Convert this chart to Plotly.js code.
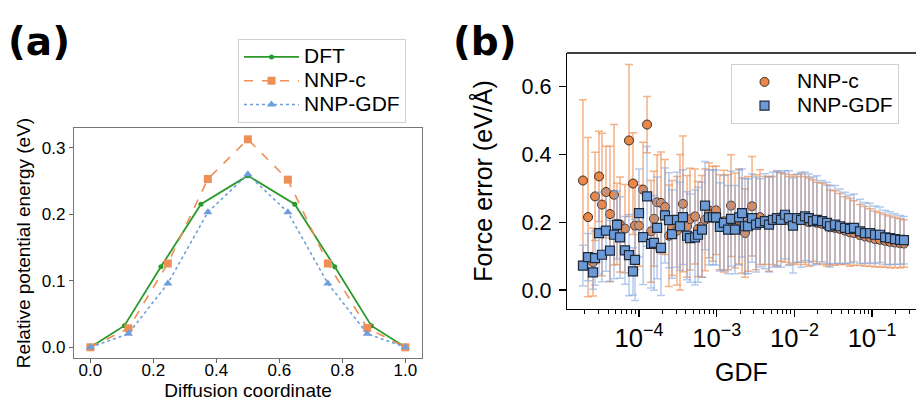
<!DOCTYPE html>
<html>
<head>
<meta charset="utf-8">
<script src="https://cdn.plot.ly/plotly-3.0.1.min.js"></script>
<style>
html,body{margin:0;padding:0;background:#fff;}
#chart{width:916px;height:404px;}
</style>
</head>
<body>
<div id="chart"></div>
<script>
// ---------- Panel (a): diffusion barrier ----------
const dftX = [0, 0.108, 0.224, 0.351, 0.5, 0.649, 0.776, 0.892, 1.0];
const dftY = [0, 0.0325, 0.121, 0.215, 0.258, 0.215, 0.121, 0.0325, 0];
const nnpX = [0, 0.121, 0.246, 0.373, 0.5, 0.627, 0.754, 0.879, 1.0];
const nnpcY = [0, 0.0285, 0.126, 0.253, 0.3126, 0.252, 0.126, 0.029, 0];
const nnpgdfY = [0, 0.0205, 0.096, 0.203, 0.26, 0.203, 0.096, 0.0205, 0];
const xTicksA = [0, 0.2, 0.4, 0.6, 0.8, 1.0];
const yTicksA = [0, 0.1, 0.2, 0.3];

// ---------- Panel (b): force error vs GDF ----------
const gdf = [1.90e-5, 2.21e-5, 2.56e-5, 2.72e-5, 3.06e-5, 3.34e-5, 3.76e-5, 4.23e-5, 4.77e-5, 5.21e-5, 5.70e-5, 6.60e-5, 7.43e-5, 8.37e-5, 8.88e-5, 1.00e-4, 1.13e-4, 1.27e-4, 1.43e-4, 1.56e-4, 1.71e-4,
  1.92e-4, 2.16e-4, 2.43e-4, 2.66e-4, 3.08e-4, 3.37e-4, 3.68e-4, 4.15e-4, 4.53e-4, 5.26e-4, 5.75e-4, 6.47e-4, 7.07e-4, 7.96e-4, 8.96e-4, 9.80e-4, 1.10e-3, 1.24e-3, 1.40e-3, 1.53e-3, 1.72e-3, 1.94e-3, 2.12e-3, 2.31e-3,
  2.53e-3, 2.85e-3, 3.21e-3, 3.61e-3, 4.18e-3, 4.71e-3, 5.30e-3, 5.97e-3, 6.72e-3, 7.57e-3, 8.52e-3, 9.59e-3, 1.08e-2, 1.22e-2, 1.37e-2, 1.54e-2, 1.74e-2, 1.95e-2, 2.27e-2, 2.63e-2,
  2.87e-2, 3.33e-2, 3.86e-2, 4.48e-2, 5.19e-2, 5.85e-2, 6.99e-2, 8.10e-2, 9.40e-2, 0.109, 0.126, 0.147, 0.170, 0.197, 0.229, 0.257];
const nnpcMean = [0.323, 0.215, 0.082, 0.276, 0.335, 0.252, 0.289, 0.224, 0.281, 0.195, 0.193, 0.181, 0.441, 0.314, 0.190, 0.190, 0.296, 0.488, 0.173, 0.210, 0.259,
  0.257, 0.245, 0.160, 0.183, 0.175, 0.200, 0.254, 0.188, 0.209, 0.217, 0.180, 0.188, 0.207, 0.235, 0.225, 0.235, 0.200, 0.203, 0.200, 0.249, 0.205, 0.217, 0.190, 0.168,
  0.195, 0.247, 0.200, 0.215, 0.205, 0.195, 0.205, 0.210, 0.215, 0.212, 0.205, 0.210, 0.205, 0.212, 0.205, 0.200, 0.205, 0.198, 0.195, 0.190,
  0.185, 0.183, 0.180, 0.175, 0.170, 0.168, 0.162, 0.158, 0.155, 0.150, 0.148, 0.145, 0.142, 0.140, 0.138, 0.137];
const nnpcErr = [0.238, 0.235, 0.10, 0.13, 0.133, 0.21, 0.135, 0.20, 0.207, 0.12, 0.14, 0.13, 0.224, 0.15, 0.13, 0.12, 0.14, 0.083, 0.15, 0.14, 0.14,
  0.15, 0.14, 0.15, 0.14, 0.16, 0.20, 0.20, 0.15, 0.15, 0.14, 0.14, 0.15, 0.15, 0.14, 0.14, 0.13, 0.14, 0.15, 0.14, 0.15, 0.14, 0.14, 0.14, 0.13,
  0.14, 0.147, 0.14, 0.14, 0.13, 0.14, 0.13, 0.14, 0.13, 0.13, 0.13, 0.13, 0.13, 0.13, 0.13, 0.13, 0.12, 0.12, 0.12, 0.12,
  0.11, 0.11, 0.105, 0.10, 0.10, 0.095, 0.09, 0.088, 0.085, 0.082, 0.08, 0.078, 0.076, 0.074, 0.072, 0.07];
const nnpgdfMean = [0.072, 0.097, 0.052, 0.094, 0.168, 0.104, 0.175, 0.116, 0.163, 0.192, 0.155, 0.117, 0.103, 0.055, 0.089, 0.227, 0.156, 0.276, 0.136, 0.139, 0.183,
  0.124, 0.220, 0.206, 0.165, 0.207, 0.188, 0.215, 0.160, 0.153, 0.155, 0.163, 0.178, 0.249, 0.214, 0.215, 0.214, 0.186, 0.198, 0.178, 0.210, 0.178, 0.214, 0.227, 0.188,
  0.188, 0.212, 0.193, 0.198, 0.203, 0.193, 0.207, 0.212, 0.207, 0.222, 0.212, 0.190, 0.212, 0.207, 0.217, 0.212, 0.203, 0.207, 0.203, 0.198,
  0.188, 0.193, 0.188, 0.183, 0.180, 0.183, 0.173, 0.168, 0.168, 0.163, 0.163, 0.155, 0.153, 0.150, 0.148, 0.147];
const nnpgdfErr = [0.06, 0.07, 0.05, 0.08, 0.12, 0.08, 0.12, 0.09, 0.13, 0.10, 0.12, 0.10, 0.12, 0.07, 0.12, 0.13, 0.14, 0.147, 0.13, 0.14, 0.15,
  0.14, 0.14, 0.14, 0.13, 0.14, 0.13, 0.14, 0.13, 0.13, 0.14, 0.14, 0.14, 0.13, 0.14, 0.14, 0.14, 0.13, 0.14, 0.13, 0.14, 0.13, 0.14, 0.13, 0.14,
  0.14, 0.13, 0.14, 0.13, 0.14, 0.14, 0.14, 0.14, 0.14, 0.13, 0.14, 0.14, 0.13, 0.14, 0.13, 0.13, 0.13, 0.13, 0.12, 0.12,
  0.12, 0.115, 0.11, 0.105, 0.10, 0.10, 0.095, 0.09, 0.088, 0.085, 0.082, 0.08, 0.078, 0.075, 0.072, 0.07];
const yTicksB = [0, 0.2, 0.4, 0.6];

const FONT = 'Liberation Sans';
const W = 916, H = 404;
const px = v => v / W;
const py = v => 1 - v / H;
const big = s => '<span style="font-size:21px">' + s + '</span>';

const traces = [
  {x: dftX, y: dftY, name: big('DFT'), mode: 'lines+markers', xaxis: 'x', yaxis: 'y', legend: 'legend',
   line: {color: '#2a9a2a', width: 1.8}, marker: {symbol: 'circle', size: 5, color: '#2a9a2a'}},
  {x: nnpX, y: nnpcY, name: big('NNP-c'), mode: 'lines+markers', xaxis: 'x', yaxis: 'y', legend: 'legend',
   line: {color: '#ee8f57', width: 1.6, dash: 'dash'}, marker: {symbol: 'square', size: 8, color: '#ee8f57'}},
  {x: nnpX, y: nnpgdfY, name: big('NNP-GDF'), mode: 'lines+markers', xaxis: 'x', yaxis: 'y', legend: 'legend',
   line: {color: '#6f9edc', width: 1.6, dash: 'dot'}, marker: {symbol: 'triangle-up', size: 8, color: '#6f9edc'}},
  {x: gdf, y: nnpcMean, name: big('NNP-c'), mode: 'markers', xaxis: 'x2', yaxis: 'y2', legend: 'legend2',
   marker: {symbol: 'circle', size: 9, color: '#ea874a', line: {color: '#3a2a20', width: 1}},
   error_y: {type: 'data', array: nnpcErr, visible: true, color: 'rgba(240,146,84,0.7)', thickness: 1.5, width: 4}},
  {x: gdf, y: nnpgdfMean, name: big('NNP-GDF'), mode: 'markers', xaxis: 'x2', yaxis: 'y2', legend: 'legend2',
   marker: {symbol: 'square', size: 9, color: '#6c9ad6', line: {color: '#1e2a3a', width: 1.2}},
   error_y: {type: 'data', array: nnpgdfErr, visible: true, color: 'rgba(120,160,222,0.55)', thickness: 1.5, width: 4}}
];

const layout = {
  width: W, height: H,
  margin: {l: 0, r: 0, t: 0, b: 0},
  paper_bgcolor: '#fff', plot_bgcolor: '#fff',
  font: {family: FONT, color: '#000'},
  showlegend: true,
  xaxis: {
    domain: [px(74), px(422)], anchor: 'y', range: [-0.052, 1.053],
    tickmode: 'array', tickvals: xTicksA, tickformat: '.1f',
    ticks: 'outside', ticklen: 4, tickcolor: '#666', tickwidth: 1, ticklabelstandoff: -8,
    tickfont: {size: 17, family: FONT},
    showline: true, linecolor: '#777', linewidth: 1.2, mirror: true,
    showgrid: false, zeroline: false, automargin: false,
    title: {text: 'Diffusion coordinate', font: {size: 19, family: FONT}, standoff: 4}
  },
  yaxis: {
    domain: [py(358), py(128)], anchor: 'x', range: [-0.0161, 0.3296],
    tickmode: 'array', tickvals: yTicksA, tickformat: '.1f',
    ticks: 'outside', ticklen: 4, tickcolor: '#666', tickwidth: 1,
    tickfont: {size: 17, family: FONT},
    showline: true, linecolor: '#777', linewidth: 1.2, mirror: true,
    showgrid: false, zeroline: false, automargin: false,
    title: {text: 'Relative potential energy (eV)', font: {size: 19, family: FONT}, standoff: 6}
  },
  xaxis2: {
    domain: [px(567), 1], anchor: 'y2', type: 'log', range: [-4.9266, -0.435],
    dtick: 1, exponentformat: 'power', showexponent: 'all',
    ticks: 'outside', ticklen: 7, tickcolor: '#000', tickwidth: 1.2,
    minor: {dtick: 'D1', ticks: 'outside', ticklen: 4, tickcolor: '#000', tickwidth: 1, showgrid: false},
    tickfont: {size: 20.5, family: FONT},
    showline: true, linecolor: '#000', linewidth: 1.3, mirror: false,
    showgrid: false, zeroline: false, automargin: false,
    title: {text: 'GDF', font: {size: 25, family: FONT}, standoff: 12}
  },
  yaxis2: {
    domain: [py(309), py(53)], anchor: 'x2', range: [-0.056, 0.699],
    tickmode: 'array', tickvals: yTicksB, tickformat: '.1f',
    ticks: 'outside', ticklen: 7, tickcolor: '#000', tickwidth: 1.2, ticklabelstandoff: 3,
    tickfont: {size: 21.5, family: FONT},
    showline: true, linecolor: '#000', linewidth: 1.3, mirror: false,
    showgrid: false, zeroline: false, automargin: false,
    title: {text: 'Force error (eV/Å)', font: {size: 25, family: FONT}, standoff: 21}
  },
  legend: {
    x: px(238), y: py(39), xanchor: 'left', yanchor: 'top', xref: 'paper', yref: 'paper',
    bgcolor: 'rgba(255,255,255,0.85)', bordercolor: '#d0d0d0', borderwidth: 1,
    font: {size: 16, family: FONT}, itemwidth: 55, tracegroupgap: 0
  },
  legend2: {
    x: px(731), y: py(64), xanchor: 'left', yanchor: 'top', xref: 'paper', yref: 'paper',
    bgcolor: 'rgba(255,255,255,0.85)', bordercolor: '#d0d0d0', borderwidth: 1,
    font: {size: 16, family: FONT}, itemwidth: 55, tracegroupgap: 0
  },
  shapes: [
    {type: 'line', xref: 'paper', yref: 'paper', x0: px(567), x1: 1, y0: py(53), y1: py(53),
     line: {color: '#000', width: 1.3}}
  ],
  annotations: [
    {text: '<b>(a)</b>', x: px(6), y: py(42), xref: 'paper', yref: 'paper', xanchor: 'left', yanchor: 'middle',
     showarrow: false, font: {size: 39, family: 'DejaVu Sans', color: '#000'}},
    {text: '<b>(b)</b>', x: px(451), y: py(42), xref: 'paper', yref: 'paper', xanchor: 'left', yanchor: 'middle',
     showarrow: false, font: {size: 39, family: 'DejaVu Sans', color: '#000'}}
  ]
};

Plotly.newPlot('chart', traces, layout, {displayModeBar: false, staticPlot: true});
</script>
</body>
</html>
